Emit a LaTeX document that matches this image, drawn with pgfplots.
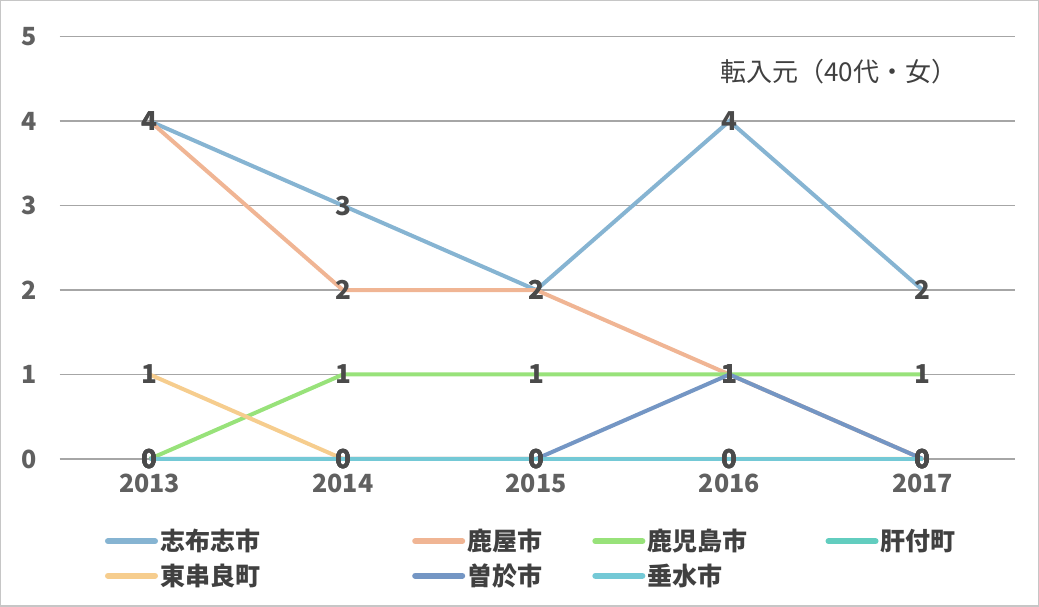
\documentclass[border=0pt]{standalone}
\usepackage{fontspec}
\setmainfont{Noto Sans CJK JP}
\usepackage{pgfplots}
\pgfplotsset{compat=1.18}
\usepackage{pgfplotstable}
\definecolor{cA}{HTML}{86B4D2}
\definecolor{cB}{HTML}{F0B594}
\definecolor{cC}{HTML}{98E27A}
\definecolor{cD}{HTML}{62CDBF}
\definecolor{cE}{HTML}{F6CD8E}
\definecolor{cF}{HTML}{7496C4}
\definecolor{cG}{HTML}{74C9D6}
\definecolor{lbl}{HTML}{4A4A4A}
\definecolor{tck}{HTML}{606060}
\pgfplotstableread{
x s1 s2 s3 s4 s5 s6 s7
0 4 4 0 0 1 0 0
1 3 2 1 0 0 0 0
2 2 2 1 0 0 0 0
3 4 1 1 0 0 1 0
4 2 0 1 0 0 0 0
}\data
\begin{document}
\begin{tikzpicture}
\draw[gray!45, line width=0.6pt] (0.5pt,0.5pt) rectangle (519pt,303pt);
\begin{axis}[
  at={(30pt,74pt)}, anchor=south west,
  scale only axis, width=477.5pt, height=211pt,
  xmin=-0.466, xmax=4.48, ymin=0, ymax=5,
  clip=false,
  axis line style={draw=none},
  major tick style={draw=none},
  xtick={0,1,2,3,4}, xticklabels={2013,2014,2015,2016,2017},
  ytick={0,1,2,3,4,5},
  ymajorgrids, grid style={gray!70, line width=0.6pt},
  /pgf/number format/assume math mode=true,
  ticklabel style={font=\fontsize{12.5}{14}\selectfont\bfseries, text=tck},
  xticklabel style={yshift=-4pt},
  yticklabel style={xshift=-8pt},
  legend columns=4,
  legend style={draw=none, fill=none, at={(axis description cs:0.047,-0.16)}, anchor=north west,
    inner sep=0pt, row sep=3pt,
    nodes={inner sep=1pt, font=\fontsize{12.5}{14}\selectfont\bfseries, text=black!75}},
  legend image code/.code={\draw[#1, line width=3pt, line cap=round] (1.5pt,0pt) -- (25pt,0pt);},
  every axis plot/.append style={line width=2pt},
]
\addplot[cA] table[x=x,y=s1]{\data}; \addlegendentry{\makebox[125pt][l]{志布志市}}
\addplot[cB] table[x=x,y=s2]{\data}; \addlegendentry{\makebox[61.5pt][l]{鹿屋市}}
\addplot[cC] table[x=x,y=s3]{\data}; \addlegendentry{\makebox[88pt][l]{鹿児島市}}
\addplot[cD] table[x=x,y=s4]{\data}; \addlegendentry{肝付町}
\addplot[cE] table[x=x,y=s5]{\data}; \addlegendentry{\makebox[125pt][l]{東串良町}}
\addplot[cF] table[x=x,y=s6]{\data}; \addlegendentry{\makebox[61.5pt][l]{曽於市}}
\addplot[cG] table[x=x,y=s7]{\data}; \addlegendentry{\makebox[88pt][l]{垂水市}}
\pgfplotsforeachungrouped \s in {s1,s2,s3,s4,s5,s6,s7}{
  \addplot[draw=none, forget plot, nodes near coords, point meta=y,
    every node near coord/.append style={anchor=center, font=\fontsize{13}{15}\selectfont\bfseries, text=lbl}]
    table[x=x,y=\s]{\data};
}
\node[font=\fontsize{13}{15}\selectfont, text=black!75] at (axis description cs:0.815,0.917) {転入元（40代・女）};
\end{axis}
\end{tikzpicture}
\end{document}
